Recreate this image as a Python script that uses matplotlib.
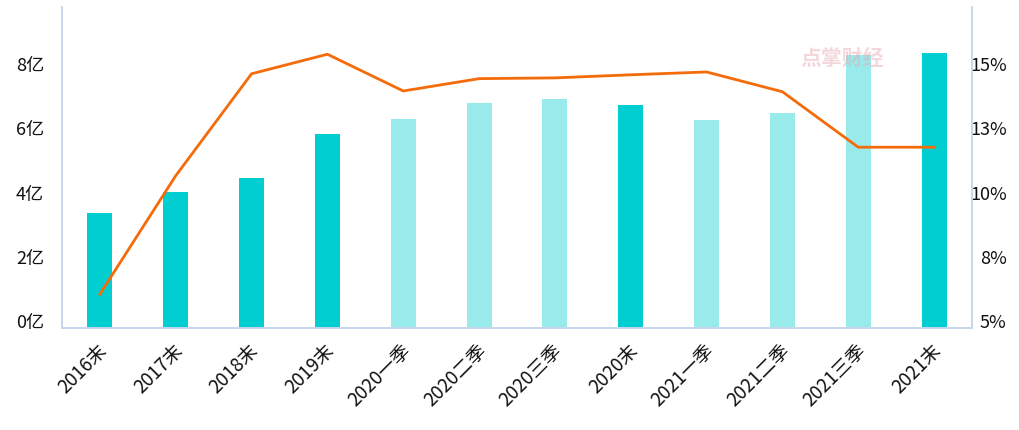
import matplotlib.pyplot as plt
from matplotlib.transforms import ScaledTranslation
import numpy as np

plt.rcParams['font.family'] = ['Noto Sans CJK SC', 'DejaVu Sans']

categories = ['2016末', '2017末', '2018末', '2019末', '2020一季', '2020二季',
              '2020三季', '2020末', '2021一季', '2021二季', '2021三季', '2021末']
# bar values, unit: 亿
amounts = [3.58, 4.25, 4.68, 6.04, 6.51, 7.02, 7.13, 6.94, 6.48, 6.71, 8.51, 8.58]
# line values, unit: %
ratios = [6.32, 10.93, 14.90, 15.66, 14.23, 14.71, 14.74, 14.86, 14.97, 14.20, 12.04, 12.04]
year_end = [True, True, True, True, False, False, False, True, False, False, False, True]

left_ticks = [0, 2, 4, 6, 8]
left_labels = ['0亿', '2亿', '4亿', '6亿', '8亿']
right_ticks = [5, 7.5, 10, 12.5, 15]
right_labels = ['5%', '8%', '10%', '13%', '15%']

DARK = '#00CED1'
LIGHT = '#99EBEB'
LINE = '#F46B0A'
AXIS = '#C8D6EE'

fig = plt.figure(figsize=(10.19, 4.30), dpi=100)
ax = fig.add_axes([62 / 1019, 102 / 430, 910 / 1019, 321 / 430])
x = np.arange(len(categories))
colors = [DARK if e else LIGHT for e in year_end]
ax.bar(x, amounts, width=0.33, color=colors, zorder=2)
ax.set_xlim(-0.5, len(categories) - 0.5)
ax.set_ylim(0, 10)
ax.set_yticks(left_ticks)
ax.set_yticklabels(left_labels)
ax.set_xticks(x)
ax.set_xticklabels(categories, rotation=45, ha='right', va='center',
                   rotation_mode='anchor')

ax2 = ax.twinx()
ax2.plot(x, ratios, color=LINE, linewidth=2, zorder=3)
ax2.set_ylim(5, 17.5)
ax2.set_yticks(right_ticks)
ax2.set_yticklabels(right_labels, ha='right')

for a in (ax, ax2):
    a.spines['top'].set_visible(False)
    for s in ('left', 'right', 'bottom'):
        a.spines[s].set_color(AXIS)
        a.spines[s].set_linewidth(1.2)
    a.tick_params(length=0, labelsize=13, colors='#111111')

ax.tick_params(axis='y', pad=13)
ax.tick_params(axis='x', pad=14, labelsize=13.5)
ax2.tick_params(axis='y', pad=25)

# labels sit a bit above their ticks
up = ScaledTranslation(0, 7 / 100, fig.dpi_scale_trans)
for lab in ax.get_yticklabels() + ax2.get_yticklabels():
    lab.set_transform(lab.get_transform() + up)
shift = ScaledTranslation(4 / 100, 0, fig.dpi_scale_trans)
for lab in ax.get_xticklabels():
    lab.set_transform(lab.get_transform() + shift)

# watermark
fig.text(800 / 1019, 372 / 430, '点掌财经', fontsize=15, fontweight='bold',
         color='#E8A8B0', alpha=0.45, va='center', ha='left')

fig.savefig('out.png', dpi=100)
